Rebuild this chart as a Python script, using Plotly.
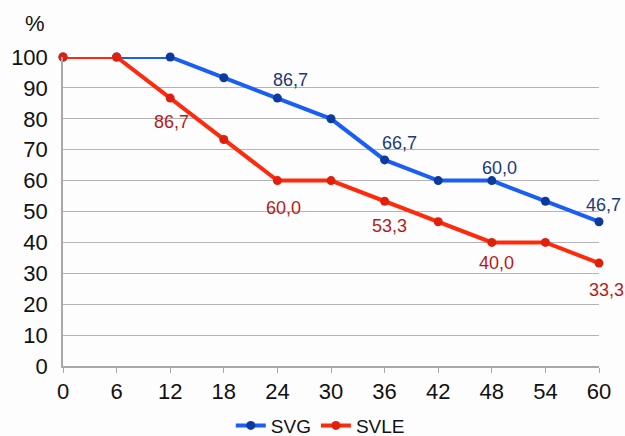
import plotly.graph_objects as go

months = [0, 6, 12, 18, 24, 30, 36, 42, 48, 54, 60]
svg = [100, 100, 100, 93.3, 86.7, 80, 66.7, 60, 60, 53.3, 46.7]
svle = [100, 100, 86.7, 73.3, 60, 60, 53.3, 46.7, 40, 40, 33.3]
svg_labels = ["", "", "", "", "86,7", "", "66,7", "", "60,0", "", "46,7"]
svle_labels = ["", "", "86,7", "", "60,0", "", "53,3", "", "40,0", "", "33,3"]
x_ticks = months
y_ticks = list(range(0, 101, 10))

# label offsets (pixels) relative to their points
svg_dx = [0, 0, 0, 0, 13, 0, 15, 0, 8, 0, 4]
svg_dy = [0, 0, 0, 0, 18, 0, 17, 0, 13, 0, 17]
svle_dx = [0, 0, 1, 0, 6, 0, 5, 0, 5, 0, 7]
svle_dy = [0, 0, -24, 0, -27, 0, -25, 0, -21, 0, -27]

fig = go.Figure()
fig.add_trace(go.Scatter(
    x=months, y=svg, name="SVG", mode="lines+markers",
    line=dict(color="#1a5ef5", width=4),
    marker=dict(color="#0d3a9e", size=9),
    cliponaxis=False,
))
fig.add_trace(go.Scatter(
    x=months, y=svle, name="SVLE", mode="lines+markers",
    line=dict(color="#ff2a0c", width=4),
    marker=dict(color="#e0200c", size=9),
    cliponaxis=False,
))

annotations = []
for xv, yv, t, dx, dy in zip(months, svg, svg_labels, svg_dx, svg_dy):
    if t:
        annotations.append(dict(x=xv, y=yv, text=t, xref="x", yref="y", showarrow=False,
                                xshift=dx, yshift=dy, xanchor="center", yanchor="middle",
                                font=dict(color="#1c3a78", size=18)))
for xv, yv, t, dx, dy in zip(months, svle, svle_labels, svle_dx, svle_dy):
    if t:
        annotations.append(dict(x=xv, y=yv, text=t, xref="x", yref="y", showarrow=False,
                                xshift=dx, yshift=dy, xanchor="center", yanchor="middle",
                                font=dict(color="#b51a1a", size=18)))
annotations.append(dict(text="%", xref="paper", yref="paper", x=-0.052, y=1.107,
                        xanchor="center", yanchor="middle", showarrow=False,
                        font=dict(size=22)))

fig.update_layout(
    width=625, height=436,
    margin=dict(l=63, r=26, t=57, b=70),
    paper_bgcolor="#fdfdfd", plot_bgcolor="#fdfdfd",
    font=dict(family="Liberation Sans, Arial, sans-serif", size=22, color="#111111"),
    showlegend=True,
    legend=dict(orientation="h", x=0.48, xanchor="center", yref="container",
                y=0.024, yanchor="middle", font=dict(size=19),
                itemwidth=30, tracegroupgap=0, bgcolor="rgba(0,0,0,0)"),
    annotations=annotations,
)
fig.update_xaxes(range=[0, 60], tickvals=x_ticks, showgrid=False,
                 showline=True, linecolor="#a8a8a8", linewidth=1.5,
                 ticks="outside", tickcolor="#a8a8a8", ticklen=5, zeroline=False,
                 automargin=False)
fig.update_yaxes(range=[0, 100], tickvals=y_ticks, showgrid=True,
                 gridcolor="#b4b4b4", gridwidth=1,
                 showline=True, linecolor="#a8a8a8", linewidth=1.5,
                 ticks="", ticklabelstandoff=9, zeroline=False, automargin=False)

fig.write_html("out.html", config={"displayModeBar": False},
               post_script="document.body.style.margin='0';document.body.style.overflow='hidden';")
